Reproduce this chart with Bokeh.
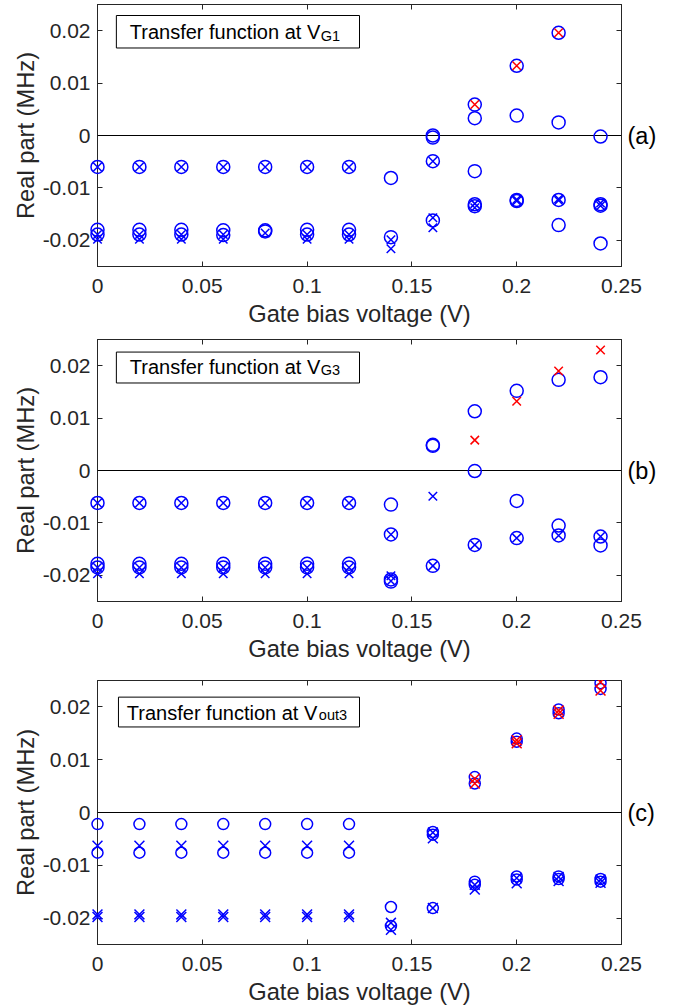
from bokeh.plotting import figure
from bokeh.models import Span, Label, BoxAnnotation, LinearAxis, FixedTicker
from bokeh.layouts import column
from bokeh.embed import file_html
from bokeh.resources import INLINE

FONT = "Liberation Sans"
AX = "#262626"
BLUE = "#0000ff"
RED = "#ff0000"

# ---------------- data ----------------
x_ticks = [0, 0.05, 0.1, 0.15, 0.2, 0.25]
x_tick_labels = ["0", "0.05", "0.1", "0.15", "0.2", "0.25"]
y_ticks = [-0.02, -0.01, 0, 0.01, 0.02]
y_tick_labels = ["-0.02", "-0.01", "0", "0.01", "0.02"]
x_label = "Gate bias voltage (V)"
y_label = "Real part (MHz)"

# panel (a): Transfer function at V_G1
a_circles = [
    (0.00, [-0.0060, -0.0180, -0.0189]),
    (0.02, [-0.0060, -0.0180, -0.0189]),
    (0.04, [-0.0060, -0.0180, -0.0189]),
    (0.06, [-0.0060, -0.0181, -0.0190]),
    (0.08, [-0.0060, -0.0181, -0.0183]),
    (0.10, [-0.0060, -0.0180, -0.0189]),
    (0.12, [-0.0060, -0.0180, -0.0189]),
    (0.14, [-0.0081, -0.0194]),
    (0.16, [0.0000, -0.0004, -0.0049, -0.0162]),
    (0.18, [0.0059, 0.0033, -0.0068, -0.0131, -0.0135]),
    (0.20, [0.0133, 0.0038, -0.0123, -0.0125]),
    (0.22, [0.0196, 0.0025, -0.0123, -0.0171]),
    (0.24, [-0.0002, -0.0131, -0.0134, -0.0206]),
]
a_crosses = [
    (0.00, [-0.0060, -0.0189, -0.0198]),
    (0.02, [-0.0060, -0.0189, -0.0198]),
    (0.04, [-0.0060, -0.0189, -0.0198]),
    (0.06, [-0.0060, -0.0189, -0.0198]),
    (0.08, [-0.0060, -0.0186]),
    (0.10, [-0.0060, -0.0189, -0.0198]),
    (0.12, [-0.0060, -0.0189, -0.0198]),
    (0.14, [-0.0199, -0.0216]),
    (0.16, [-0.0049, -0.0157, -0.0176]),
    (0.18, [-0.0130, -0.0138]),
    (0.20, [-0.0122, -0.0125]),
    (0.22, [-0.0121, -0.0124]),
    (0.24, [-0.0129, -0.0134]),
]
a_red = [(0.18, [0.0059]), (0.20, [0.0133]), (0.22, [0.0196])]

# panel (b): Transfer function at V_G3
b_circles = [
    (0.00, [-0.0062, -0.0178, -0.0185]),
    (0.02, [-0.0062, -0.0178, -0.0185]),
    (0.04, [-0.0062, -0.0178, -0.0185]),
    (0.06, [-0.0062, -0.0178, -0.0185]),
    (0.08, [-0.0062, -0.0178, -0.0185]),
    (0.10, [-0.0062, -0.0178, -0.0185]),
    (0.12, [-0.0062, -0.0178, -0.0185]),
    (0.14, [-0.0065, -0.0122, -0.0208, -0.0212]),
    (0.16, [0.0047, 0.0049, -0.0182]),
    (0.18, [0.0113, -0.0001, -0.0142]),
    (0.20, [0.0152, -0.0058, -0.0129]),
    (0.22, [0.0173, -0.0105, -0.0124]),
    (0.24, [0.0178, -0.0126, -0.0143]),
]
b_crosses = [
    (0.00, [-0.0062, -0.0185, -0.0197]),
    (0.02, [-0.0062, -0.0185, -0.0197]),
    (0.04, [-0.0062, -0.0185, -0.0197]),
    (0.06, [-0.0062, -0.0185, -0.0197]),
    (0.08, [-0.0062, -0.0185, -0.0197]),
    (0.10, [-0.0062, -0.0185, -0.0197]),
    (0.12, [-0.0062, -0.0185, -0.0197]),
    (0.14, [-0.0122, -0.0201, -0.0211]),
    (0.16, [-0.0049, -0.0182]),
    (0.18, [-0.0142]),
    (0.20, [-0.0129]),
    (0.22, [-0.0124]),
    (0.24, [-0.0126]),
]
b_red = [(0.18, [0.0058]), (0.20, [0.0132]), (0.22, [0.0190]), (0.24, [0.0230])]

# panel (c): Transfer function at V_out3
c_circles = [
    (0.00, [-0.0022, -0.0076]),
    (0.02, [-0.0022, -0.0076]),
    (0.04, [-0.0022, -0.0076]),
    (0.06, [-0.0022, -0.0076]),
    (0.08, [-0.0022, -0.0076]),
    (0.10, [-0.0022, -0.0076]),
    (0.12, [-0.0022, -0.0076]),
    (0.14, [-0.0179, -0.0215]),
    (0.16, [-0.0037, -0.0042, -0.0181]),
    (0.18, [0.0067, 0.0055, -0.0131, -0.0137]),
    (0.20, [0.0140, 0.0134, -0.0121, -0.0127]),
    (0.22, [0.0195, 0.0188, -0.0121, -0.0126]),
    (0.24, [0.0245, 0.0234, -0.0126, -0.0131]),
]
c_crosses = [
    (0.00, [-0.0063, -0.0193, -0.0198]),
    (0.02, [-0.0063, -0.0193, -0.0198]),
    (0.04, [-0.0063, -0.0193, -0.0198]),
    (0.06, [-0.0063, -0.0193, -0.0198]),
    (0.08, [-0.0063, -0.0193, -0.0198]),
    (0.10, [-0.0063, -0.0193, -0.0198]),
    (0.12, [-0.0063, -0.0193, -0.0198]),
    (0.14, [-0.0209, -0.0222]),
    (0.16, [-0.0038, -0.0049, -0.0181]),
    (0.18, [-0.0137, -0.0146]),
    (0.20, [-0.0124, -0.0134]),
    (0.22, [-0.0122, -0.0130]),
    (0.24, [-0.0127, -0.0133]),
]
c_red = [
    (0.18, [0.0064, 0.0055]),
    (0.20, [0.0137, 0.0131]),
    (0.22, [0.0193, 0.0187]),
    (0.24, [0.0247, 0.0231]),
]


def flat(groups):
    xs, ys = [], []
    for x, vals in groups:
        for v in vals:
            xs.append(x)
            ys.append(v)
    return xs, ys


def style_axis(ax, ticks, labels, size="21px", standoff=None):
    ax.ticker = FixedTicker(ticks=ticks)
    ax.major_label_overrides = {t: l for t, l in zip(ticks, labels)}
    ax.minor_tick_line_color = None
    ax.major_tick_in = 5
    ax.major_tick_out = 0
    ax.major_tick_line_color = AX
    ax.axis_line_color = AX
    ax.axis_line_width = 1
    ax.major_label_text_font = FONT
    ax.major_label_text_color = AX
    ax.major_label_text_font_size = size
    ax.axis_label_text_font = FONT
    ax.axis_label_text_font_style = "normal"
    ax.axis_label_text_font_size = "23.7px"
    ax.axis_label_text_color = AX
    if standoff is not None:
        ax.major_label_standoff = standoff


def make_panel(circ, cross, red, sub, tag, left, frame_w, frame_h, top_b, bottom,
               box, text_xy, sub_dx, sub_dy, circ_size, cross_size):
    W = 680
    p = figure(width=W, height=top_b + frame_h + bottom,
               x_range=(0, 0.25), y_range=(-0.025, 0.025),
               output_backend="svg", toolbar_location=None,
               min_border_left=left, min_border_right=W - left - frame_w,
               min_border_top=top_b, min_border_bottom=bottom)
    p.grid.visible = False
    p.outline_line_color = AX
    p.background_fill_color = "white"
    p.border_fill_color = "white"

    style_axis(p.xaxis[0], x_ticks, x_tick_labels, standoff=12)
    style_axis(p.yaxis[0], y_ticks, y_tick_labels, standoff=7)
    p.xaxis[0].axis_label = x_label
    p.yaxis[0].axis_label = y_label
    p.xaxis[0].axis_label_standoff = 5
    p.yaxis[0].axis_label_standoff = 1

    top = LinearAxis()
    style_axis(top, x_ticks, ["" for _ in x_ticks], size="1px", standoff=0)
    p.add_layout(top, "above")
    rgt = LinearAxis()
    style_axis(rgt, y_ticks, [tag if t == 0 else "" for t in y_ticks], size="23.5px", standoff=6)
    rgt.major_label_text_color = "black"
    p.add_layout(rgt, "right")

    p.add_layout(Span(location=0, dimension="width", line_color="black", line_width=1))

    cx, cy = flat(circ)
    r1 = p.scatter(cx, cy, marker="circle", size=circ_size, fill_color=None,
                   line_color=BLUE, line_width=1.5)
    xx, xy = flat(cross)
    r2 = p.scatter(xx, xy, marker="x", size=cross_size, line_color=BLUE, line_width=1.5)
    rx, ry = flat(red)
    r3 = p.scatter(rx, ry, marker="x", size=cross_size, line_color=RED, line_width=1.5)
    for r in (r1, r2, r3):
        r.level = "overlay"

    bl, br, bt, bb = box
    p.add_layout(BoxAnnotation(left=bl, right=br, top=bt, bottom=bb,
                               fill_color="white", fill_alpha=1.0,
                               line_color="black", line_width=1, line_alpha=1.0))
    tx, ty = text_xy
    p.add_layout(Label(x=tx, y=ty, y_offset=7, text="Transfer function at V", text_font=FONT,
                       text_font_size="20px", text_color="black",
                       text_baseline="alphabetic", text_align="left"))
    p.add_layout(Label(x=tx, y=ty, x_offset=sub_dx, y_offset=7 + sub_dy, text=sub,
                       text_font=FONT, text_font_size="14.5px", text_color="black",
                       text_baseline="alphabetic", text_align="left"))
    return p


pa = make_panel(a_circles, a_crosses, a_red, "G1", "(a)",
                97, 524, 262, 4, 73,
                (0.009, 0.125, 0.0229, 0.0167), (0.0154, 0.0184), 191, -4, 13, 12)
pb = make_panel(b_circles, b_crosses, b_red, "G3", "(b)",
                97, 524, 262, 0, 79,
                (0.009, 0.125, 0.0226, 0.0167), (0.0154, 0.01845), 191, -3, 13, 12)
pc = make_panel(c_circles, c_crosses, c_red, "out3", "(c)",
                95, 529, 265, 0, 62,
                (0.0100, 0.125, 0.02185, 0.0162), (0.0140, 0.01758), 192, -2, 11, 14)

layout = column(pa, pb, pc)
open("out.html", "w").write(file_html(layout, INLINE))
